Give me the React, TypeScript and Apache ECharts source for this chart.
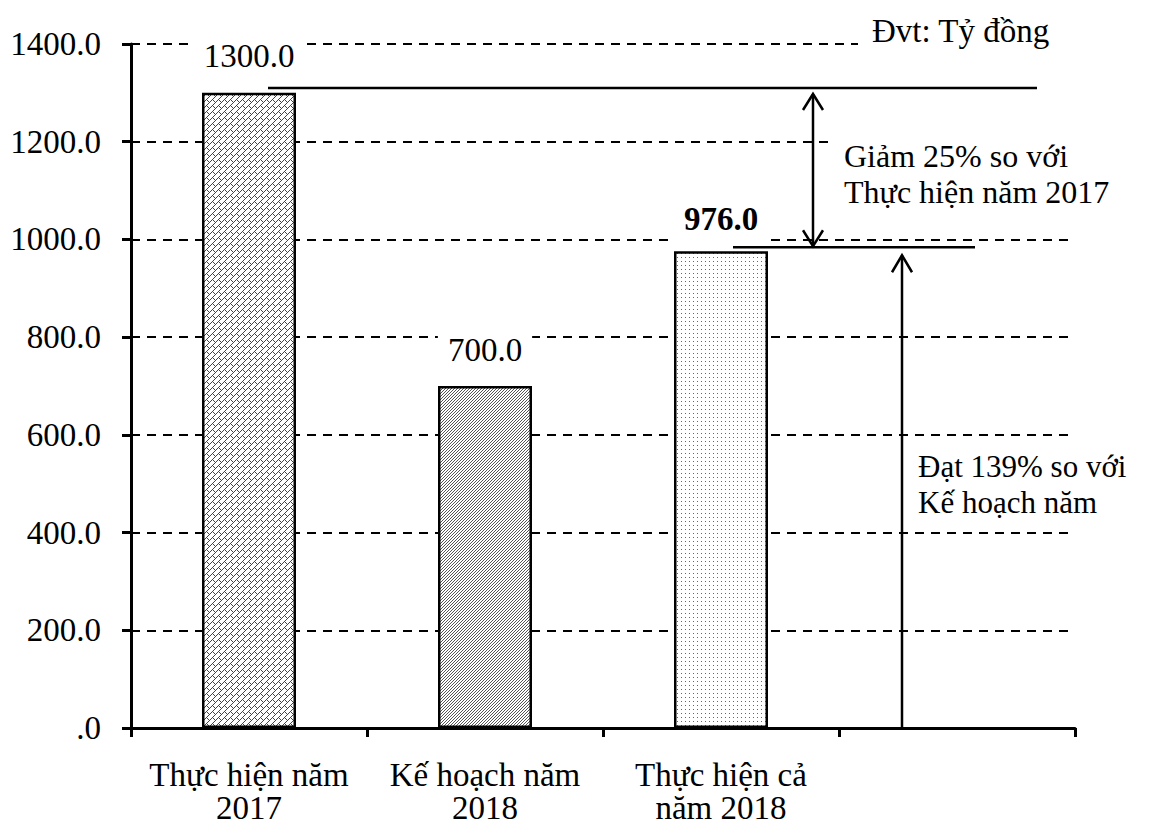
import React, { useEffect, useRef } from "react";
import * as echarts from "echarts";

const categories = ["Thực hiện năm\n2017", "Kế hoạch năm\n2018", "Thực hiện cả\nnăm 2018", ""];
const values: (number | null)[] = [1300, 700, 976, null];
const yMin = 0;
const yMax = 1400;
const yInterval = 200;
const unitText = "Đvt: Tỷ đồng";
const noteDecrease = "Giảm 25% so với\nThực hiện năm 2017";
const noteAchieve = "Đạt 139% so với\nKế hoạch năm";
const FONT = "'Liberation Serif', 'Times New Roman', serif";

function makePattern(w: number, h: number, pixels: [number, number][], color: string): string {
  const c = document.createElement("canvas");
  c.width = w;
  c.height = h;
  const ctx = c.getContext("2d")!;
  ctx.fillStyle = "#ffffff";
  ctx.fillRect(0, 0, w, h);
  ctx.fillStyle = color;
  pixels.forEach(([x, y]) => ctx.fillRect(x, y, 1, 1));
  return c.toDataURL();
}

export default function App() {
  const ref = useRef<HTMLDivElement>(null);
  useEffect(() => {
    if (!ref.current) return;
    const chart = echarts.init(ref.current, undefined, { renderer: "svg" });

    const p1 = makePattern(
      6,
      6,
      [[0, 5], [1, 4], [2, 3], [3, 2], [4, 1], [5, 0], [3, 4], [4, 5]],
      "#444444"
    );
    const p2 = makePattern(3, 3, [[0, 2], [1, 1], [2, 0]], "#555555");
    const p3 = makePattern(4, 4, [[1, 1]], "#666666");
    const patterns = [p1, p2, p3];

    const labelBase = {
      show: true,
      position: "top",
      fontFamily: FONT,
      fontSize: 33,
      color: "#000",
      backgroundColor: "#fff",
      padding: [16, 10, 2, 10],
      distance: 18,
      formatter: (p: any) => Number(p.value).toFixed(1),
    };

    const data = values.map((v, i) => {
      if (v === null) return "-";
      const item: any = {
        value: v,
        itemStyle: {
          color: { image: patterns[i], repeat: "repeat" },
          borderColor: "#000",
          borderWidth: 2.5,
        },
      };
      if (i === 2) {
        item.label = { ...labelBase, fontWeight: "bold", padding: [4, 10, 14, 10], distance: 2 };
      }
      return item;
    });

    chart.setOption({
      animation: false,
      backgroundColor: "#fff",
      grid: { left: 131, right: 76, top: 44, bottom: 97, containLabel: false },
      xAxis: {
        type: "category",
        data: categories,
        boundaryGap: true,
        axisLine: { show: true, lineStyle: { color: "#000", width: 3 } },
        axisTick: { show: true, interval: 0, length: 9, lineStyle: { color: "#000", width: 3 } },
        axisLabel: {
          interval: 0,
          margin: 30,
          fontFamily: FONT,
          fontSize: 33,
          lineHeight: 33,
          color: "#000",
        },
        splitLine: { show: false },
      },
      yAxis: {
        type: "value",
        min: yMin,
        max: yMax,
        interval: yInterval,
        axisLine: { show: true, lineStyle: { color: "#000", width: 3 } },
        axisTick: { show: true, length: 9, lineStyle: { color: "#000", width: 3 } },
        axisLabel: {
          margin: 30,
          fontFamily: FONT,
          fontSize: 33,
          color: "#000",
          formatter: (v: number) => (v === 0 ? ".0" : v.toFixed(1)),
        },
        splitLine: { show: true, lineStyle: { color: "#000", width: 2, type: [9, 7] } },
      },
      series: [
        {
          type: "bar",
          data,
          barWidth: 94,
          label: labelBase,
        },
      ],
    });

    const yPix = (v: number) => chart.convertToPixel({ yAxisIndex: 0 }, v) as number;
    const yTop = yPix(1310);
    const yLow = yPix(984);
    const yBase = yPix(0);
    const yArrowTip = yLow + 8;

    const stroke = { stroke: "#000", lineWidth: 2.5, fill: "none" };
    const xDouble = 813;
    const xUp = 902;

    chart.setOption({
      graphic: [
        {
          type: "text",
          z: 50,
          left: 858,
          top: 12,
          style: {
            text: unitText,
            font: `33px ${FONT}`,
            fill: "#000",
            backgroundColor: "#fff",
            padding: [2, 40, 4, 14],
          },
        },
        {
          type: "text",
          z: 50,
          left: 832,
          top: yTop + 46,
          style: {
            text: noteDecrease,
            font: `32px ${FONT}`,
            lineHeight: 36,
            fill: "#000",
            backgroundColor: "#fff",
            padding: [4, 12, 4, 12],
          },
        },
        {
          type: "text",
          z: 50,
          left: 918,
          top: 448,
          style: {
            text: noteAchieve,
            font: `31px ${FONT}`,
            lineHeight: 36,
            fill: "#000",
          },
        },
        { type: "line", z: 60, shape: { x1: 268, y1: yTop, x2: 1037, y2: yTop }, style: stroke },
        { type: "line", z: 60, shape: { x1: 733, y1: yLow, x2: 975, y2: yLow }, style: stroke },
        { type: "line", z: 60, shape: { x1: xDouble, y1: yTop + 6, x2: xDouble, y2: yLow - 1 }, style: stroke },
        {
          type: "polyline",
          z: 60,
          shape: { points: [[xDouble - 10, yTop + 22], [xDouble, yTop + 6], [xDouble + 10, yTop + 22]] },
          style: stroke,
        },
        {
          type: "polyline",
          z: 60,
          shape: { points: [[xDouble - 10, yLow - 17], [xDouble, yLow - 1], [xDouble + 10, yLow - 17]] },
          style: stroke,
        },
        { type: "line", z: 60, shape: { x1: xUp, y1: yBase, x2: xUp, y2: yArrowTip }, style: stroke },
        {
          type: "polyline",
          z: 60,
          shape: { points: [[xUp - 10, yArrowTip + 17], [xUp, yArrowTip], [xUp + 10, yArrowTip + 17]] },
          style: stroke,
        },
      ],
    });

    return () => chart.dispose();
  }, []);

  return (
    <div
      ref={ref}
      style={{ position: "absolute", left: 0, top: 0, width: 1151, height: 825, background: "#fff" }}
    />
  );
}
